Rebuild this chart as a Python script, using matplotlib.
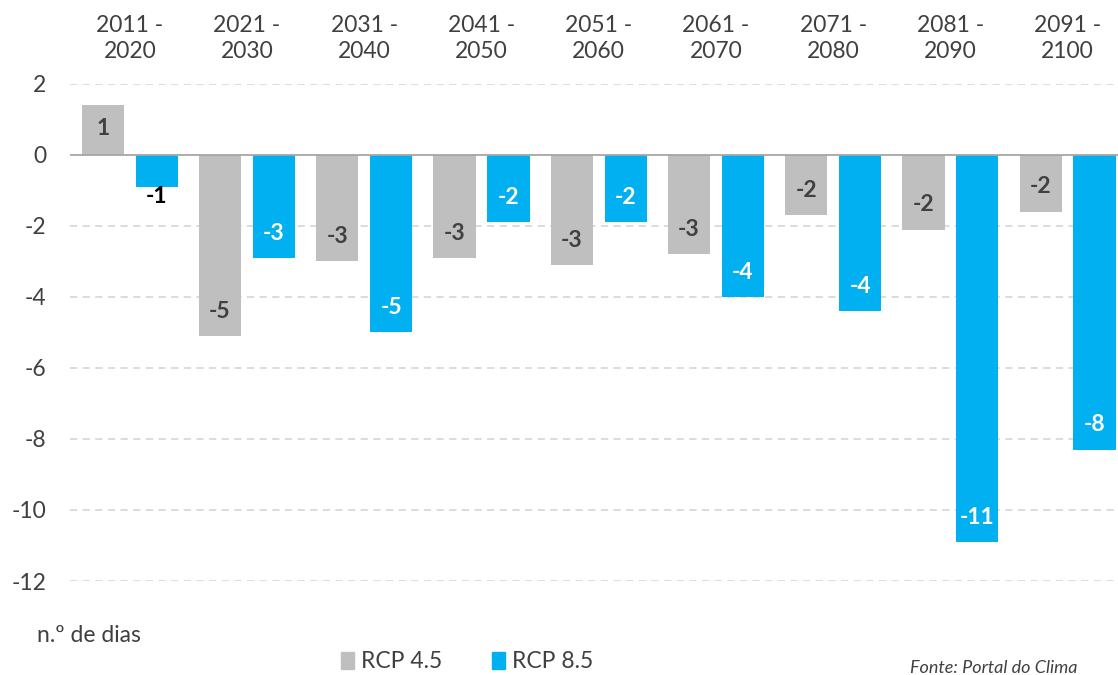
import matplotlib
matplotlib.use("Agg")
import matplotlib.pyplot as plt
from matplotlib.patches import Patch
import numpy as np

plt.rcParams['font.family'] = ['Lato', 'DejaVu Sans']

categories = ["2011 -\n2020", "2021 -\n2030", "2031 -\n2040", "2041 -\n2050", "2051 -\n2060",
              "2061 -\n2070", "2071 -\n2080", "2081 -\n2090", "2091 -\n2100"]
rcp45 = [1.4, -5.1, -3.0, -2.9, -3.1, -2.8, -1.7, -2.1, -1.6]
rcp85 = [-0.9, -2.9, -5.0, -1.9, -1.9, -4.0, -4.4, -10.9, -8.3]
labels45 = ["1", "-5", "-3", "-3", "-3", "-3", "-2", "-2", "-2"]
labels85 = ["-1", "-3", "-5", "-2", "-2", "-4", "-4", "-11", "-8"]
yticks = [2, 0, -2, -4, -6, -8, -10, -12]

GRAY = "#BFBFBF"
BLUE = "#00B0F0"
TXT = "#404040"
FS = 16.5

fig = plt.figure(figsize=(11.18, 6.75), dpi=100)
ax = fig.add_axes([70/1118, 1-581/675, 1-70/1118, (581-84)/675])

x = np.arange(len(categories))
w = 0.36
off = 0.23
b1 = ax.bar(x - off, rcp45, w, color=GRAY, zorder=3)
b2 = ax.bar(x + off, rcp85, w, color=BLUE, zorder=3)

def label(bars, texts, incolor):
    for r, t in zip(bars, texts):
        h = r.get_height()
        cx = r.get_x() + r.get_width() / 2
        if abs(h) < 1.2 and h < 0:
            ax.text(cx, h - 0.28, t, ha='center', va='center', fontsize=FS, fontweight='bold',
                    color='black', zorder=4)
        elif h < 0:
            ax.text(cx, h + 0.7, t, ha='center', va='center', fontsize=FS, fontweight='bold',
                    color=incolor, zorder=4)
        else:
            ax.text(cx, h - 0.65, t, ha='center', va='center', fontsize=FS, fontweight='bold',
                    color=incolor, zorder=4)

label(b1, labels45, TXT)
label(b2, labels85, "white")

ax.set_ylim(-12, 2)
ax.set_xlim(-0.51, 8.43)
ax.set_yticks(yticks)
ax.set_yticklabels([str(v) for v in yticks])
ax.tick_params(axis='y', length=0, labelsize=FS, colors=TXT, pad=17)
ax.xaxis.tick_top()
ax.set_xticks(x)
ax.set_xticklabels(categories)
ax.tick_params(axis='x', length=0, labelsize=FS, colors=TXT, pad=16)
for lab in ax.get_xticklabels():
    lab.set_linespacing(1.3)

for v in yticks:
    if v != 0:
        ax.axhline(v, color='#D9D9D9', lw=1.3, ls=(0, (4, 3)), zorder=1)
ax.axhline(0, color='#A6A6A6', lw=1.3, zorder=4)
for s in ax.spines.values():
    s.set_visible(False)

fig.text(37/1118, 1-636/675, "n.º de dias", fontsize=FS, color=TXT, va='center', ha='left')

handles = [Patch(color=GRAY, label="RCP 4.5"), Patch(color=BLUE, label="RCP 8.5")]
fig.legend(handles=handles, loc='center', bbox_to_anchor=(467/1118, 1-662/675), ncol=2,
           frameon=False, fontsize=FS, handlelength=0.55, handleheight=0.7, handletextpad=0.3,
           columnspacing=2.2, labelcolor=TXT)

fig.text(1078/1118, 1-668/675, "Fonte: Portal do Clima", fontsize=13, style='italic',
         color=TXT, ha='right', va='center')

fig.savefig("out.png", dpi=100)
